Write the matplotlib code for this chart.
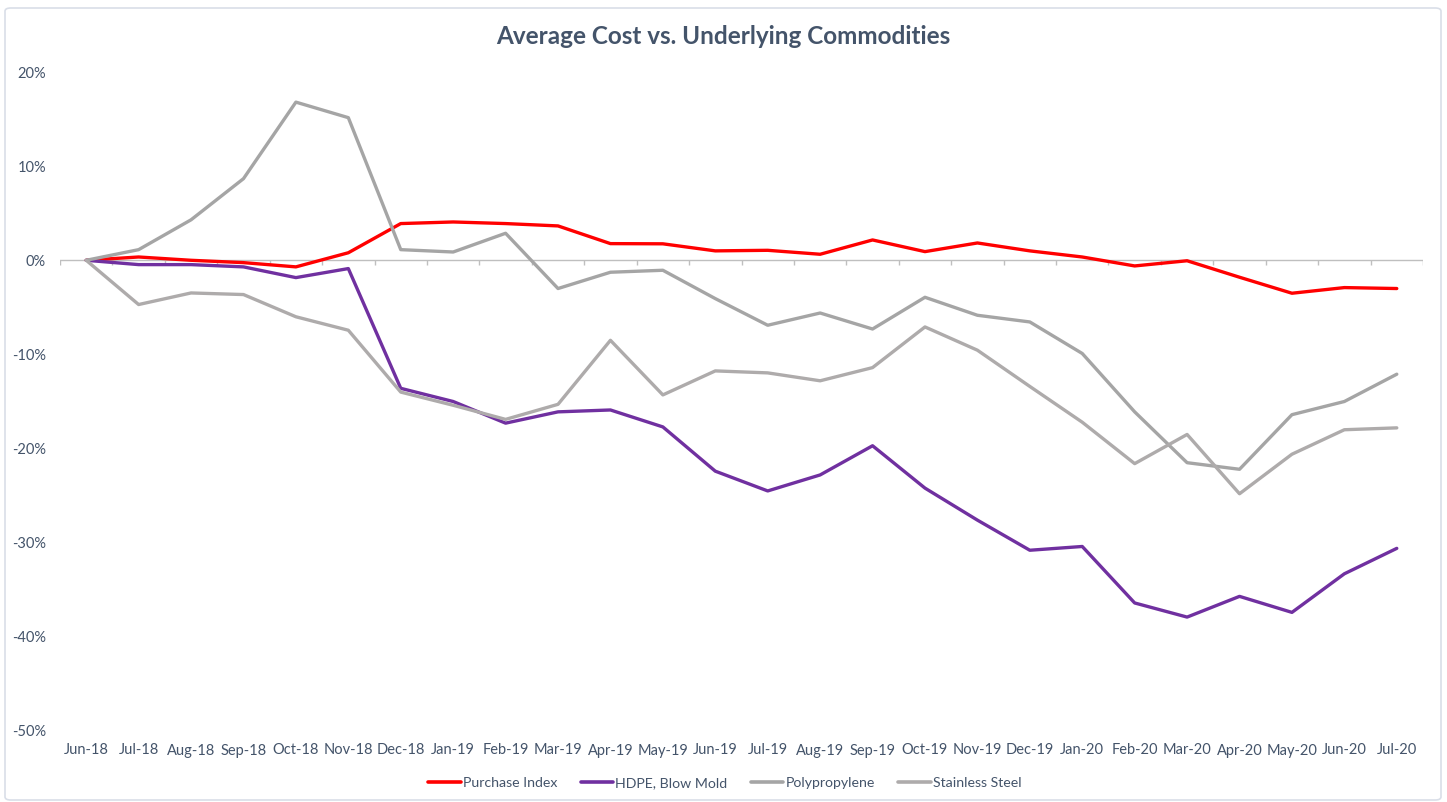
import matplotlib
matplotlib.use("Agg")
import matplotlib.pyplot as plt
from matplotlib.patches import FancyBboxPatch
from matplotlib.ticker import FuncFormatter

months = ["Jun-18", "Jul-18", "Aug-18", "Sep-18", "Oct-18", "Nov-18", "Dec-18",
          "Jan-19", "Feb-19", "Mar-19", "Apr-19", "May-19", "Jun-19", "Jul-19",
          "Aug-19", "Sep-19", "Oct-19", "Nov-19", "Dec-19", "Jan-20", "Feb-20",
          "Mar-20", "Apr-20", "May-20", "Jun-20", "Jul-20"]

purchase_index = [0.0, 0.35, 0.0, -0.25, -0.7, 0.8, 3.9, 4.07, 3.9, 3.65, 1.77, 1.75,
                  1.0, 1.06, 0.64, 2.16, 0.92, 1.84, 1.0, 0.35, -0.6, -0.05, -1.8,
                  -3.5, -2.9, -3.0]
hdpe_blow_mold = [0.0, -0.46, -0.46, -0.7, -1.84, -0.88, -13.6, -15.0, -17.3, -16.1,
                  -15.9, -17.7, -22.4, -24.5, -22.8, -19.7, -24.2, -27.6, -30.8,
                  -30.4, -36.4, -37.9, -35.7, -37.4, -33.3, -30.6]
polypropylene = [0.0, 1.13, 4.3, 8.67, 16.8, 15.15, 1.13, 0.88, 2.87, -3.0, -1.27,
                 -1.06, -4.07, -6.9, -5.6, -7.3, -3.93, -5.84, -6.55, -9.9, -16.1,
                 -21.5, -22.2, -16.4, -15.0, -12.1]
stainless_steel = [0.0, -4.7, -3.47, -3.64, -6.0, -7.43, -14.0, -15.4, -16.9, -15.3,
                   -8.5, -14.3, -11.75, -11.96, -12.8, -11.4, -7.08, -9.55, -13.4,
                   -17.2, -21.6, -18.5, -24.8, -20.6, -18.0, -17.8]

series_names = ["Purchase Index", "HDPE, Blow Mold", "Polypropylene", "Stainless Steel"]
series_values = [purchase_index, hdpe_blow_mold, polypropylene, stainless_steel]
series_colors = ["#FF0000", "#7030A0", "#A5A5A5", "#AEABAB"]

y_ticks = [-50, -40, -30, -20, -10, 0, 10, 20]

plt.rcParams['font.family'] = ['Lato', 'DejaVu Sans']
text_color = "#44546A"

fig = plt.figure(figsize=(14.47, 8.02), dpi=100)
fig.patch.set_facecolor("white")
fig.patches.append(FancyBboxPatch((5 / 1447, 2 / 802), 1436 / 1447, 792 / 802,
                                  boxstyle="round,pad=0,rounding_size=0.004",
                                  transform=fig.transFigure, fill=False,
                                  edgecolor="#D9DEE8", linewidth=1.2))

ax = fig.add_axes([60 / 1447, 71 / 802, 1363 / 1447, 659 / 802])
x = list(range(len(months)))

for name, vals, col in zip(series_names, series_values, series_colors):
    ax.plot(x, vals, color=col, linewidth=2.4, label=name, solid_capstyle="round",
            solid_joinstyle="round")

ax.set_xlim(-0.5, len(months) - 0.5)
ax.set_ylim(y_ticks[0], y_ticks[-1])
ax.set_yticks(y_ticks)
ax.yaxis.set_major_formatter(FuncFormatter(lambda v, p: f"{int(round(v))}%"))
ax.set_xticks(x)
ax.set_xticklabels(months)

for s in ax.spines.values():
    s.set_visible(False)
ax.tick_params(axis="both", length=0, labelsize=10.5, labelcolor=text_color)
ax.tick_params(axis="y", pad=10)
ax.tick_params(axis="x", pad=9)

# zero axis line with category-boundary tick marks
ax.axhline(0, color="#BFBFBF", linewidth=1.0, zorder=1)
boundaries = [i - 0.5 for i in range(len(months) + 1)]
ax.vlines(boundaries, -0.45, 0, color="#BFBFBF", linewidth=1.0, zorder=1)

fig.text(0.5, 1 - 37 / 802, "Average Cost vs. Underlying Commodities",
         ha="center", va="center", fontsize=17.5, fontweight="bold", color=text_color)

leg = fig.legend(loc="center", bbox_to_anchor=(0.501, 19 / 802), ncol=4,
                 frameon=False, fontsize=10.2, handlelength=2.3, handletextpad=0.15,
                 columnspacing=1.65)
for t in leg.get_texts():
    t.set_color(text_color)
for h in leg.get_lines():
    h.set_linewidth(2.6)

fig.savefig("out.png", dpi=100, facecolor="white")
